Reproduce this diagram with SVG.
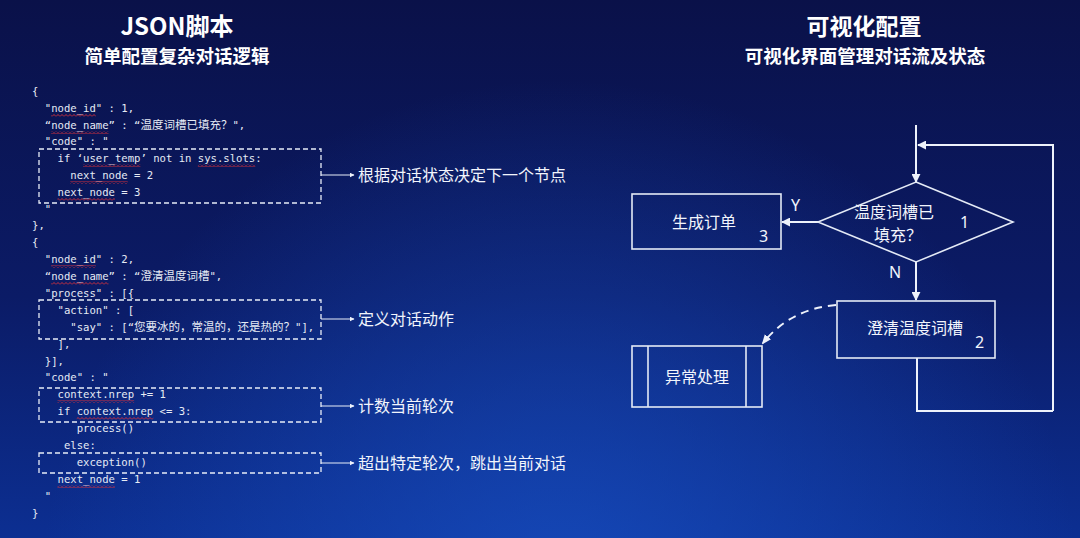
<svg xmlns="http://www.w3.org/2000/svg" width="1080" height="538" viewBox="0 0 1080 538">
<defs>
<linearGradient id="bg" x1="0" y1="0" x2="0" y2="1">
<stop offset="0" stop-color="#0a1149"/>
<stop offset="0.55" stop-color="#0b1b66"/>
<stop offset="1" stop-color="#0c2f92"/>
</linearGradient>
<radialGradient id="glow" cx="560" cy="600" r="520" gradientUnits="userSpaceOnUse">
<stop offset="0" stop-color="#1850c4" stop-opacity="0.75"/>
<stop offset="1" stop-color="#1850c4" stop-opacity="0"/>
</radialGradient>
<pattern id="squig" patternUnits="userSpaceOnUse" width="4" height="3">
<path d="M0 2.5 L2 0.5 L4 2.5" fill="none" stroke="#e0303a" stroke-width="0.9"/>
</pattern>
<marker id="ah" viewBox="0 0 10 10" refX="9" refY="5" markerWidth="9" markerHeight="9" markerUnits="userSpaceOnUse" orient="auto">
<path d="M0 0 L10 5 L0 10 Z" fill="#eef2fb"/>
</marker>
<marker id="ahs" viewBox="0 0 10 10" refX="9" refY="5" markerWidth="5" markerHeight="5" markerUnits="userSpaceOnUse" orient="auto">
<path d="M0 0 L10 5 L0 10 Z" fill="#eef2fb"/>
</marker>
<marker id="ahd" viewBox="0 0 10 10" refX="8" refY="5" markerWidth="10" markerHeight="10" markerUnits="userSpaceOnUse" orient="auto">
<path d="M0 1 L10 5 L0 9 Z" fill="#eef2fb"/>
</marker>
</defs>
<style>
.title{font-family:"Noto Sans CJK SC","Noto Sans",sans-serif;font-weight:bold;fill:#ffffff;text-anchor:middle}
.code{font-family:"DejaVu Sans Mono","Noto Sans CJK SC",monospace;font-size:10.6px;fill:#e6ebf5;white-space:pre}
.cjk{font-family:"Noto Sans CJK SC",sans-serif;font-size:11.5px}
.lbl{font-family:"Noto Sans CJK SC",sans-serif;font-size:16px;fill:#f2f5fc}
.dash{fill:none;stroke:#e8edf8;stroke-width:1.3;stroke-dasharray:5 3}
.ln{fill:none;stroke:#e8edf8;stroke-width:1.2}
.sq{fill:url(#squig)}
.box{fill:none;stroke:#e4eaf6;stroke-width:1.6}
.fl{fill:none;stroke:#eef2fb;stroke-width:2}
.ft{font-family:"Noto Sans CJK SC",sans-serif;font-size:16px;fill:#f2f5fc;text-anchor:middle}
.num{font-family:"Noto Sans","Liberation Sans",sans-serif;font-size:16px;fill:#f2f5fc}
</style>
<rect width="1080" height="538" fill="url(#bg)"/>
<rect width="1080" height="538" fill="url(#glow)"/>

<g id="titles">
<text class="title" x="177" y="35" font-size="24">JSON脚本</text>
<text class="title" x="177" y="63" font-size="18.5">简单配置复杂对话逻辑</text>
<text class="title" x="864" y="35" font-size="23">可视化配置</text>
<text class="title" x="865" y="63" font-size="18.5">可视化界面管理对话流及状态</text>
</g>

<g id="code">
<text xml:space="preserve" class="code" x="32" y="95">{</text>
<text xml:space="preserve" class="code" x="32" y="112">  "node_id" : 1,</text>
<text xml:space="preserve" class="code" x="32" y="129">  “node_name” : “<tspan class="cjk">温度词槽已填充？</tspan>",</text>
<text xml:space="preserve" class="code" x="32" y="145">  "code" : "</text>
<text xml:space="preserve" class="code" x="32" y="162">    if ‘user_temp’ not in sys.slots:</text>
<text xml:space="preserve" class="code" x="32" y="179">      next_node = 2</text>
<text xml:space="preserve" class="code" x="32" y="196">    next_node = 3</text>
<text xml:space="preserve" class="code" x="32" y="213">  "</text>
<text xml:space="preserve" class="code" x="32" y="229">},</text>
<text xml:space="preserve" class="code" x="32" y="246">{</text>
<text xml:space="preserve" class="code" x="32" y="263">  "node_id" : 2,</text>
<text xml:space="preserve" class="code" x="32" y="280">  “node_name” : “<tspan class="cjk">澄清温度词槽</tspan>",</text>
<text xml:space="preserve" class="code" x="32" y="297">  "process" : [{</text>
<text xml:space="preserve" class="code" x="32" y="314">    "action" : [</text>
<text xml:space="preserve" class="code" x="32" y="331">      "say" : [“<tspan class="cjk">您要冰的，常温的，还是热的？</tspan>"],</text>
<text xml:space="preserve" class="code" x="32" y="348">    ],</text>
<text xml:space="preserve" class="code" x="32" y="365">  }],</text>
<text xml:space="preserve" class="code" x="32" y="381">  "code" : "</text>
<text xml:space="preserve" class="code" x="32" y="398">    context.nrep += 1</text>
<text xml:space="preserve" class="code" x="32" y="415">    if context.nrep &lt;= 3:</text>
<text xml:space="preserve" class="code" x="32" y="432">       process()</text>
<text xml:space="preserve" class="code" x="32" y="449">     else:</text>
<text xml:space="preserve" class="code" x="32" y="466">       exception()</text>
<text xml:space="preserve" class="code" x="32" y="483">    next_node = 1</text>
<text xml:space="preserve" class="code" x="32" y="500">  "</text>
<text xml:space="preserve" class="code" x="32" y="517">}</text>
</g>

<g id="squiggles">
<rect class="sq" x="51.1" y="114" width="44.7" height="3"/>
<rect class="sq" x="51.1" y="131" width="57.4" height="3"/>
<rect class="sq" x="83" y="164" width="57.4" height="3"/>
<rect class="sq" x="197.9" y="164" width="57.4" height="3"/>
<rect class="sq" x="70.3" y="181" width="57.4" height="3"/>
<rect class="sq" x="57.5" y="198" width="57.4" height="3"/>
<rect class="sq" x="51.1" y="265" width="44.7" height="3"/>
<rect class="sq" x="51.1" y="282" width="57.4" height="3"/>
<rect class="sq" x="57.5" y="400" width="76.6" height="3"/>
<rect class="sq" x="76.7" y="417" width="76.6" height="3"/>
<rect class="sq" x="57.5" y="485" width="57.4" height="3"/>
</g>

<g id="annotation-boxes">
<rect class="dash" x="39" y="149" width="282" height="54"/>
<rect class="dash" x="39" y="300" width="282" height="39"/>
<rect class="dash" x="39" y="388" width="282" height="34"/>
<rect class="dash" x="39" y="453" width="282" height="20"/>
</g>

<g id="annotations">
<text class="lbl" x="358" y="181">根据对话状态决定下一个节点</text>
<text class="lbl" x="358" y="325">定义对话动作</text>
<text class="lbl" x="358" y="412">计数当前轮次</text>
<text class="lbl" x="358" y="469">超出特定轮次，跳出当前对话</text>
</g>

<g id="connectors">
<line class="ln" x1="321" y1="175" x2="354" y2="175" marker-end="url(#ahs)"/>
<line class="ln" x1="321" y1="319" x2="354" y2="319" marker-end="url(#ahs)"/>
<line class="ln" x1="321" y1="406" x2="354" y2="406" marker-end="url(#ahs)"/>
<line class="ln" x1="321" y1="463" x2="354" y2="463" marker-end="url(#ahs)"/>
<line class="fl" x1="916" y1="125" x2="916" y2="182" marker-end="url(#ah)"/>
<polyline class="fl" points="1053,411 1053,145 918,145" marker-end="url(#ah)"/>
<polyline class="fl" points="917,358 917,411 1053,411"/>
<line class="fl" x1="818" y1="222" x2="782" y2="222" marker-end="url(#ah)"/>
<line class="fl" x1="916" y1="262" x2="916" y2="300" marker-end="url(#ah)"/>
<path class="fl" d="M836 305 Q790 309 763 343" stroke-width="2.5" stroke-dasharray="8 6" marker-end="url(#ahd)"/>
<text class="num" x="791" y="211">Y</text>
<text class="num" x="889" y="278">N</text>
</g>

<g id="node-decision">
<polygon class="box" points="916,182 1013,222 916,262 818,222"/>
<text class="ft" x="894" y="218" font-size="15">温度词槽已</text>
<text class="ft" x="898" y="241" font-size="15">填充？</text>
<text class="num" x="960" y="228">1</text>
</g>

<g id="node-order">
<rect class="box" x="632" y="194" width="149" height="55"/>
<text class="ft" x="704" y="228">生成订单</text>
<text class="num" x="759" y="242">3</text>
</g>

<g id="node-clarify">
<rect class="box" x="837" y="301" width="158" height="57"/>
<text class="ft" x="915" y="334">澄清温度词槽</text>
<text class="num" x="975" y="348">2</text>
</g>

<g id="node-exception">
<rect class="box" x="632" y="346" width="130" height="61"/>
<line class="box" x1="648" y1="346" x2="648" y2="407"/>
<line class="box" x1="746" y1="346" x2="746" y2="407"/>
<text class="ft" x="697" y="383">异常处理</text>
</g>
</svg>
